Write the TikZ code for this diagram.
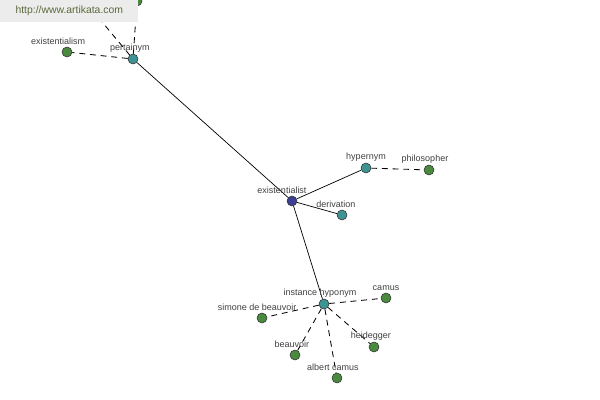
\documentclass[tikz,border=0pt]{standalone}
\usepackage{fontspec}
\setmainfont{Liberation Sans}
\usepackage{xcolor}
\usetikzlibrary{positioning,backgrounds}

\definecolor{wordgreen}{HTML}{4A8A3E}
\definecolor{wordteal}{HTML}{3E9494}
\definecolor{wordblue}{HTML}{3C3E94}
\definecolor{labelgray}{HTML}{404040}
\definecolor{bannergray}{HTML}{ECECEC}
\definecolor{bannertext}{HTML}{5A6A3A}

\begin{document}
\begin{tikzpicture}[
    x=0.025cm, y=-0.025cm,
    word/.style={circle, draw=black!80, thin, minimum size=0.25cm, inner sep=0pt},
    main/.style={word, fill=wordblue},
    relation/.style={word, fill=wordteal},
    leaf/.style={word, fill=wordgreen},
    every label/.style={font=\fontsize{6.4}{7}\selectfont, text=labelgray, inner sep=0.5pt},
    label distance=0.5pt,
    link/.style={draw=black, line width=0.5pt},
    dlink/.style={draw=black, line width=0.6pt, dash pattern=on 4.2pt off 3.4pt}
]

\clip (0,0) rectangle (600,400);

% Center word
\node[main, label={[xshift=-0.25cm]above:existentialist}] (existentialist) at (292,201) {};

% Relation nodes
\node[relation, label={[xshift=-0.08cm]above:pertainym}] (pertainym) at (133,59) {};
\node[relation, label={above:hypernym}] (hypernym) at (366,168) {};
\node[relation, label={[xshift=-0.15cm]above:derivation}] (derivation) at (342,215) {};
\node[relation, label={[xshift=-0.1cm]above:instance hyponym}] (insthyponym) at (324,304) {};

% Leaf words
\node[leaf, label={[xshift=-0.22cm]above:existentialism}] (existentialism) at (67,52) {};
\node[leaf] (pertaintop) at (137,1) {};
\node[leaf] (pertainleft) at (72,-14) {};
\node[leaf, label={[xshift=-0.1cm]above:philosopher}] (philosopher) at (429,170) {};
\node[leaf, label={above:camus}] (camus) at (386,298) {};
\node[leaf, label={[xshift=-0.12cm]above:simone de beauvoir}] (simone) at (262,318) {};
\node[leaf, label={[xshift=-0.08cm]above:beauvoir}] (beauvoir) at (295,355) {};
\node[leaf, label={[xshift=-0.08cm]above:heidegger}] (heidegger) at (374,347) {};
\node[leaf, label={[xshift=-0.1cm]above:albert camus}] (albertcamus) at (337,378) {};

% Connections
\begin{scope}[on background layer]
\draw[link] (existentialist) -- (pertainym);
\draw[link] (existentialist) -- (hypernym);
\draw[link] (existentialist) -- (derivation);
\draw[link] (existentialist) -- (insthyponym);
\draw[dlink] (pertainym) -- (existentialism);
\draw[dlink] (pertainym) -- (pertaintop);
\draw[dlink] (pertainym) -- (pertainleft);
\draw[dlink] (hypernym) -- (philosopher);
\draw[dlink] (insthyponym) -- (camus);
\draw[dlink] (insthyponym) -- (simone);
\draw[dlink] (insthyponym) -- (beauvoir);
\draw[dlink] (insthyponym) -- (heidegger);
\draw[dlink] (insthyponym) -- (albertcamus);
\end{scope}

% Watermark
\node[fill=bannergray, anchor=north west, minimum width=3.45cm, minimum height=0.55cm,
      inner sep=0pt, text=bannertext, font=\fontsize{7.4}{8}\selectfont] (banner) at (0,0) {http://www.artikata.com};

\end{tikzpicture}
\end{document}
